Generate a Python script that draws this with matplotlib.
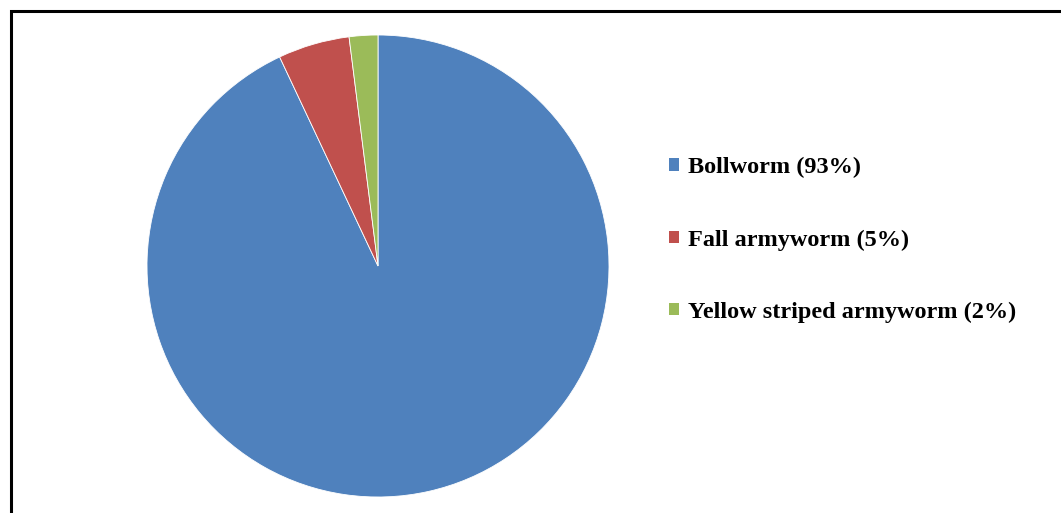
import matplotlib.pyplot as plt
from matplotlib.patches import Rectangle

pests = ["Bollworm", "Fall armyworm", "Yellow striped armyworm"]
shares = [93, 5, 2]
colors = ["#4F81BD", "#C0504D", "#9BBB59"]

W, H = 1061, 513
fig = plt.figure(figsize=(W / 100, H / 100), dpi=100)

# pie centred at (378, 266) px with radius 231 px
cx, cy, r = 378, 266, 231
ax = fig.add_axes([(cx - r) / W, (H - cy - r) / H, 2 * r / W, 2 * r / H])
wedges, _ = ax.pie(
    shares,
    colors=colors,
    startangle=90,
    counterclock=False,
    radius=1,
    wedgeprops=dict(edgecolor="white", linewidth=0.6),
)
ax.set_xlim(-1, 1)
ax.set_ylim(-1, 1)
ax.set_aspect("equal")
ax.axis("off")

labels = [f"{p} ({s}%)" for p, s in zip(pests, shares)]
leg = fig.legend(
    wedges,
    labels,
    loc="center left",
    bbox_to_anchor=(669 / W, 1 - 240 / H),
    frameon=False,
    prop=dict(family="Liberation Serif", weight="bold", size=17.5),
    handlelength=0.41,
    handleheight=0.41,
    handletextpad=0.38,
    labelspacing=2.1,
    borderpad=0,
    borderaxespad=0,
)
for h in leg.legend_handles:
    h.set_edgecolor("none")

# outer frame around the chart area
fig.patches.append(
    Rectangle((10.5 / W, -0.1), 2, 1.1 - 11.5 / H, transform=fig.transFigure,
              fill=False, edgecolor="black", linewidth=2.2)
)

fig.savefig("out.png", dpi=100)
